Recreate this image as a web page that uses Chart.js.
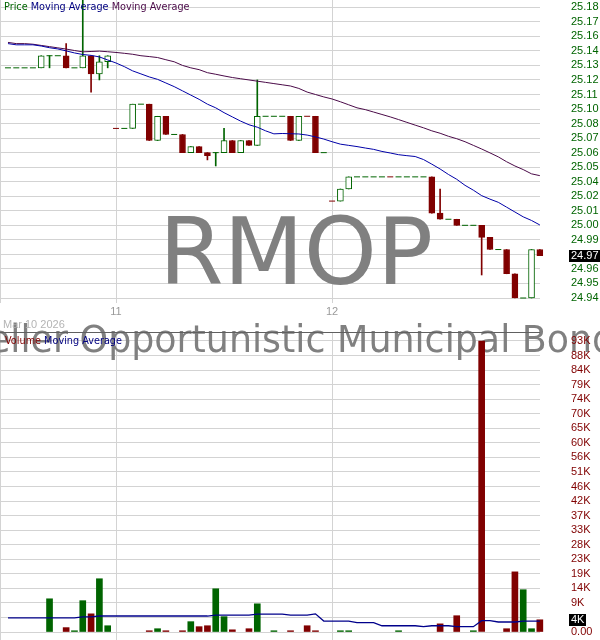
<!DOCTYPE html>
<html>
<head>
<meta charset="utf-8">
<script src="https://cdn.jsdelivr.net/npm/chart.js@4.4.1/dist/chart.umd.min.js"></script>
<style>
  html, body { margin: 0; padding: 0; background: #fff; }
  #wrap { position: relative; width: 600px; height: 640px; overflow: hidden; background: #fff; }
  #price { position: absolute; left: 0; top: 0; }
  #vol { position: absolute; left: 0; top: 333px; }
</style>
</head>
<body>
<div id="wrap">
  <canvas id="price" width="600" height="333"></canvas>
  <canvas id="vol" width="600" height="307"></canvas>
</div>
<script>
// one slot per bar, index 0 = first bar of the session
const openP = [25.13, 25.13, 25.13, 25.13, 25.13, 25.14, 25.14, 25.14, 25.13, 25.13,
  25.14, 25.125, 25.135, 25.0805, 25.08, 25.08, 25.10, 25.10, 25.07, 25.09,
  25.075, 25.075, 25.06, 25.065, 25.06, 25.06, 25.06, 25.07, 25.06, 25.07,
  25.066, 25.09, 25.09, 25.09, 25.09, 25.07, 25.0905, 25.09, 25.06, 25.0205,
  25.02, 25.03, 25.04, 25.04, 25.04, 25.04, 25.0405, 25.04, 25.04, 25.04,
  25.04, 25.04, 25.01, 25.005, 25.005, 25.00, 25.00, 25.00, 24.99, 24.98,
  24.98, 24.96, 24.94, 24.94, 24.98];
const highP = [25.13, 25.13, 25.13, 25.13, 25.14, 25.14, 25.14, 25.15, 25.13, 25.19,
  25.14, 25.14, 25.14, 25.0805, 25.08, 25.10, 25.10, 25.10, 25.09, 25.09,
  25.075, 25.075, 25.065, 25.065, 25.06, 25.06, 25.08, 25.07, 25.07, 25.07,
  25.12, 25.09, 25.09, 25.09, 25.09, 25.09, 25.0905, 25.09, 25.06, 25.0205,
  25.03, 25.04, 25.04, 25.04, 25.04, 25.04, 25.0405, 25.04, 25.04, 25.04,
  25.04, 25.04, 25.03, 25.005, 25.005, 25.00, 25.00, 25.00, 24.99, 24.98,
  24.98, 24.96, 24.94, 24.98, 24.98];
const lowP = [25.13, 25.13, 25.13, 25.13, 25.13, 25.13, 25.14, 25.13, 25.13, 25.13,
  25.11, 25.12, 25.13, 25.08, 25.08, 25.08, 25.10, 25.07, 25.07, 25.075,
  25.075, 25.06, 25.06, 25.06, 25.054, 25.049, 25.06, 25.06, 25.06, 25.066,
  25.066, 25.09, 25.09, 25.09, 25.07, 25.07, 25.09, 25.06, 25.06, 25.02,
  25.02, 25.03, 25.04, 25.04, 25.04, 25.04, 25.04, 25.04, 25.04, 25.04,
  25.04, 25.01, 25.005, 25.005, 25.00, 25.00, 25.00, 24.959, 24.98, 24.98,
  24.96, 24.94, 24.94, 24.94, 24.975];
const closeP = [25.13, 25.13, 25.13, 25.13, 25.14, 25.14, 25.14, 25.13, 25.13, 25.14,
  25.125, 25.135, 25.14, 25.08, 25.08, 25.10, 25.10, 25.07, 25.09, 25.075,
  25.075, 25.06, 25.065, 25.06, 25.0575, 25.06, 25.07, 25.06, 25.07, 25.066,
  25.09, 25.09, 25.09, 25.09, 25.07, 25.09, 25.09, 25.06, 25.06, 25.02,
  25.03, 25.04, 25.04, 25.04, 25.04, 25.04, 25.04, 25.04, 25.04, 25.04,
  25.04, 25.01, 25.005, 25.005, 25.00, 25.00, 25.00, 24.99, 24.98, 24.98,
  24.96, 24.94, 24.94, 24.98, 24.975];
const volume = [0, 0, 0, 0, 0, 10600, 0, 1400, 400, 10000,
  5800, 17000, 2000, 0, 0, 0, 0, 400, 1050, 400,
  0, 400, 3300, 1700, 2000, 13800, 4900, 700, 0, 1050,
  9000, 0, 400, 0, 400, 0, 2000, 400, 0, 0,
  400, 400, 0, 0, 0, 0, 0, 400, 0, 0,
  0, 0, 2600, 0, 5200, 0, 400, 92900, 0, 0,
  1050, 19200, 13500, 1050, 3900];
// blue (faster) and purple (slower) price moving averages
const maFast = [25.150, 25.149, 25.149, 25.149, 25.148, 25.1466, 25.1456, 25.144, 25.1423, 25.141,
  25.1403, 25.139, 25.1365, 25.134, 25.131, 25.1275, 25.125, 25.1225, 25.1205, 25.1175,
  25.1145, 25.111, 25.1075, 25.104, 25.100, 25.097, 25.093, 25.0895, 25.086, 25.083,
  25.081, 25.078, 25.0755, 25.0758, 25.0756, 25.0754, 25.0745, 25.073, 25.0712, 25.069,
  25.067, 25.066, 25.065, 25.0638, 25.0627, 25.061, 25.0597, 25.0583, 25.0575, 25.0568,
  25.0543, 25.0505, 25.0465, 25.042, 25.038, 25.033, 25.029, 25.0245, 25.0216, 25.019,
  25.015, 25.011, 25.007, 25.004, 25.0003];
const maSlow = [25.151, 25.150, 25.150, 25.1495, 25.1485, 25.1475, 25.1465, 25.1455, 25.1443, 25.1432,
  25.1435, 25.1438, 25.1433, 25.1427, 25.142, 25.1412, 25.140, 25.1393, 25.1385, 25.1367,
  25.135, 25.132, 25.130, 25.1285, 25.126, 25.1247, 25.1233, 25.122, 25.121, 25.120,
  25.119, 25.118, 25.117, 25.116, 25.115, 25.113, 25.110, 25.108, 25.106, 25.1043,
  25.102, 25.0995, 25.097, 25.0955, 25.0935, 25.0915, 25.0895, 25.0873, 25.085, 25.0827,
  25.0805, 25.078, 25.076, 25.0735, 25.0715, 25.069, 25.066, 25.063, 25.0598, 25.0565,
  25.0525, 25.049, 25.046, 25.0425, 25.041];
const maVolume = [4500, 4500, 4500, 4500, 4500, 4500, 4500, 4500, 4500, 4800,
  4800, 5100, 5100, 5100, 5100, 5100, 5100, 5100, 5100, 5100,
  5100, 5100, 5100, 5100, 5100, 5400, 5400, 5400, 5400, 5400,
  5700, 5700, 5700, 5700, 5400, 5400, 5400, 5800, 3500, 3500,
  3500, 3500, 3000, 3000, 3000, 2000, 2000, 2000, 2000, 2000,
  1700, 2000, 2000, 2000, 1700, 1700, 1700, 3600, 3600, 3200,
  3200, 3200, 3500, 3500, 3500];

const timeTickIdx = [13, 39];
const timeTickLabels = ["11", "12"];
const priceTicks = [24.94, 24.952, 24.964, 24.976, 24.988, 25.0, 25.012, 25.024, 25.036, 25.048,
  25.06, 25.072, 25.084, 25.096, 25.108, 25.12, 25.132, 25.144, 25.156, 25.168, 25.18];
const priceTickLabels = ["24.94", "24.95", "24.96", "24.98", "24.99", "25.00", "25.01", "25.02", "25.04", "25.05",
  "25.06", "25.07", "25.08", "25.10", "25.11", "25.12", "25.13", "25.14", "25.16", "25.17", "25.18"];
const volTicks = [0, 4645, 9290, 13935, 18580, 23225, 27870, 32515, 37160, 41805,
  46450, 51095, 55740, 60385, 65030, 69675, 74320, 78965, 83610, 88255, 92900];
const volTickLabels = ["0.00", "5K", "9K", "14K", "19K", "23K", "28K", "33K", "37K", "42K",
  "46K", "51K", "56K", "60K", "65K", "70K", "74K", "79K", "84K", "88K", "93K"];
const lastPriceLabel = "24.97";
const lastVolLabel = "4K";
const dateLabel = "Mar 10 2026";
const ticker = "RMOP";
const fundName = "Rockefeller Opportunistic Municipal Bond ETF";

const UP = "#006400";
const DOWN = "#800000";
const NAVY = "#000080";
const PURPLE = "#4a0a48";
const GRID = "#d3d3d3";
const SANS = '"Liberation Sans", Arial, sans-serif';
const MARK_FONT = '"DejaVu Sans", sans-serif';
const LEGEND_FONT = '9.7px "DejaVu Sans", sans-serif';

Chart.defaults.font.family = SANS;
Chart.defaults.font.size = 11;

const lastClose = closeP[closeP.length - 1];
const lastVol = volume[volume.length - 1];

// split candles into wicks, bodies and flat bars
const wickData = [], wickColors = [];
const bodyData = [], bodyFill = [], bodyLine = [];
const dojiData = [], dojiColors = [];
openP.forEach((o, i) => {
    const c = closeP[i], h = highP[i], l = lowP[i];
    const col = c >= o ? UP : DOWN;
    if (h - l > 0.001) {
        wickData.push({ x: i, y: [l, h] });
        wickColors.push(col);
    }
    if (Math.abs(c - o) < 0.0009) {
        dojiData.push({ x: i, y: c });
        dojiColors.push(col);
    } else {
        bodyData.push({ x: i, y: [Math.min(o, c), Math.max(o, c)] });
        bodyFill.push(c > o ? "#ffffff" : DOWN);
        bodyLine.push(col);
    }
});

const volData = [], volColors = [];
volume.forEach((v, i) => {
    if (v > 0) {
        volData.push({ x: i, y: v });
        volColors.push(closeP[i] >= openP[i] ? UP : DOWN);
    }
});

const xMin = -0.96, xMax = 64.02;

function xAxis(showLabels, tickLen, height) {
    return {
        type: "linear",
        min: xMin,
        max: xMax,
        bounds: "data",
        offset: false,
        border: { display: false },
        grid: { offset: false, color: GRID, tickColor: GRID, drawTicks: true, tickLength: tickLen },
        afterBuildTicks: (scale) => {
            scale.ticks = [{ value: xMin }].concat(timeTickIdx.map(v => ({ value: v })));
        },
        afterFit: (scale) => {
            scale.height = height;
            scale.paddingLeft = 0;
            scale.paddingRight = 0;
        },
        ticks: {
            display: showLabels,
            autoSkip: false,
            maxRotation: 0,
            padding: 2,
            color: "#9a9a9a",
            font: { size: 11 },
            callback: (value) => {
                const k = timeTickIdx.indexOf(value);
                return k >= 0 ? timeTickLabels[k] : "";
            }
        }
    };
}

function drawParts(ctx, x, y, parts) {
    ctx.font = LEGEND_FONT;
    ctx.textAlign = "left";
    ctx.textBaseline = "alphabetic";
    parts.forEach(([text, color]) => {
        ctx.fillStyle = color;
        ctx.fillText(text, x, y);
        x += ctx.measureText(text).width;
    });
}

function drawBadge(ctx, y, text, w) {
    ctx.fillStyle = "#000";
    ctx.fillRect(569, Math.round(y) - 6, w, 12);
    ctx.fillStyle = "#fff";
    ctx.font = "11px " + SANS;
    ctx.textAlign = "left";
    ctx.textBaseline = "middle";
    ctx.fillText(text, 571, y);
}

function drawName(ctx, baseline) {
    ctx.fillStyle = "#808080";
    ctx.textAlign = "center";
    ctx.textBaseline = "alphabetic";
    ctx.font = "36.4px " + MARK_FONT;
    ctx.fillText(fundName, 280, baseline);
}

const priceOverlay = {
    id: "priceOverlay",
    beforeDatasetsDraw(chart) {
        const ctx = chart.ctx;
        ctx.save();
        ctx.fillStyle = "#808080";
        ctx.textAlign = "center";
        ctx.textBaseline = "alphabetic";
        ctx.font = "93px " + MARK_FONT;
        ctx.fillText(ticker, 296, 284);
        drawName(ctx, 352.3);
        ctx.restore();
    },
    afterDraw(chart) {
        const ctx = chart.ctx;
        ctx.save();
        drawParts(ctx, 4, 10, [["Price ", UP], ["Moving Average ", NAVY], ["Moving Average", PURPLE]]);
        ctx.font = "11px " + SANS;
        ctx.fillStyle = "#b4b4b4";
        ctx.fillText(dateLabel, 3, 327.5);
        ctx.strokeStyle = "#606060";
        ctx.lineWidth = 1;
        ctx.beginPath();
        ctx.moveTo(0, 332.5);
        ctx.lineTo(540, 332.5);
        ctx.stroke();
        drawBadge(ctx, chart.scales.y.getPixelForValue(lastClose), lastPriceLabel, 31);
        ctx.restore();
    }
};

const volOverlay = {
    id: "volOverlay",
    beforeDatasetsDraw(chart) {
        const ctx = chart.ctx;
        ctx.save();
        drawName(ctx, 352.3 - 333);
        ctx.restore();
    },
    afterDraw(chart) {
        const ctx = chart.ctx;
        ctx.save();
        drawParts(ctx, 5, 11, [["Volume ", DOWN], ["Moving Average", NAVY]]);
        drawBadge(ctx, chart.scales.y.getPixelForValue(lastVol), lastVolLabel, 17);
        ctx.restore();
    }
};

const common = {
    responsive: false,
    animation: false,
    events: [],
    layout: { padding: 0, autoPadding: false },
    plugins: { legend: { display: false }, tooltip: { enabled: false } }
};

new Chart(document.getElementById("price"), {
    type: "bar",
    data: {
        datasets: [
            {
                type: "line", label: "Moving Average", order: 0,
                data: maFast.map((v, i) => ({ x: i, y: v })),
                borderColor: "#0000a8", borderWidth: 1, pointRadius: 0, tension: 0, clip: false
            },
            {
                type: "line", label: "Moving Average", order: 1,
                data: maSlow.map((v, i) => ({ x: i, y: v })),
                borderColor: PURPLE, borderWidth: 1, pointRadius: 0, tension: 0, clip: false
            },
            {
                type: "scatter", label: "flat", order: 2,
                data: dojiData,
                pointStyle: "line", pointRadius: 3, pointBorderWidth: 1,
                borderColor: dojiColors, pointBorderColor: dojiColors, clip: false
            },
            {
                type: "bar", label: "body", order: 3,
                data: bodyData, grouped: false, barThickness: 6,
                backgroundColor: bodyFill, borderColor: bodyLine, borderWidth: 1, borderSkipped: false, clip: false
            },
            {
                type: "bar", label: "wick", order: 4,
                data: wickData, grouped: false, barThickness: 1,
                backgroundColor: wickColors, borderWidth: 0, clip: false
            }
        ]
    },
    options: Object.assign({}, common, {
        scales: {
            x: xAxis(true, 5, 35),
            y: {
                type: "linear",
                position: "right",
                min: 24.94,
                max: 25.186,
                bounds: "data",
                border: { display: false },
                grid: { color: GRID, drawTicks: false },
                afterBuildTicks: (scale) => { scale.ticks = priceTicks.map(v => ({ value: v })); },
                afterFit: (scale) => { scale.width = 60; scale.paddingTop = 0; scale.paddingBottom = 0; },
                ticks: {
                    z: 1,
                    autoSkip: false,
                    padding: 31,
                    color: UP,
                    font: { size: 11 },
                    callback: (value, index) => Math.abs(value - lastClose) < 0.006 ? "" : priceTickLabels[index]
                }
            }
        }
    }),
    plugins: [priceOverlay]
});

new Chart(document.getElementById("vol"), {
    type: "bar",
    data: {
        datasets: [
            {
                type: "line", label: "Moving Average", order: 0,
                data: maVolume.map((v, i) => ({ x: i, y: v })),
                borderColor: "#00008b", borderWidth: 1.3, pointRadius: 0, tension: 0, clip: false
            },
            {
                type: "bar", label: "Volume", order: 1,
                data: volData, grouped: false, barThickness: 6,
                backgroundColor: volColors, borderWidth: 0, clip: false
            }
        ]
    },
    options: Object.assign({}, common, {
        scales: {
            x: xAxis(false, 8, 8),
            y: {
                type: "linear",
                position: "right",
                min: 0,
                max: 95450,
                bounds: "data",
                border: { display: false },
                grid: { color: GRID, drawTicks: false },
                afterBuildTicks: (scale) => { scale.ticks = volTicks.map(v => ({ value: v })); },
                afterFit: (scale) => { scale.width = 60; scale.paddingTop = 0; scale.paddingBottom = 0; },
                ticks: {
                    z: 1,
                    autoSkip: false,
                    padding: 31,
                    color: DOWN,
                    font: { size: 11 },
                    callback: (value, index) => Math.abs(value - lastVol) < 2300 ? "" : volTickLabels[index]
                }
            }
        }
    }),
    plugins: [volOverlay]
});
</script>
</body>
</html>
